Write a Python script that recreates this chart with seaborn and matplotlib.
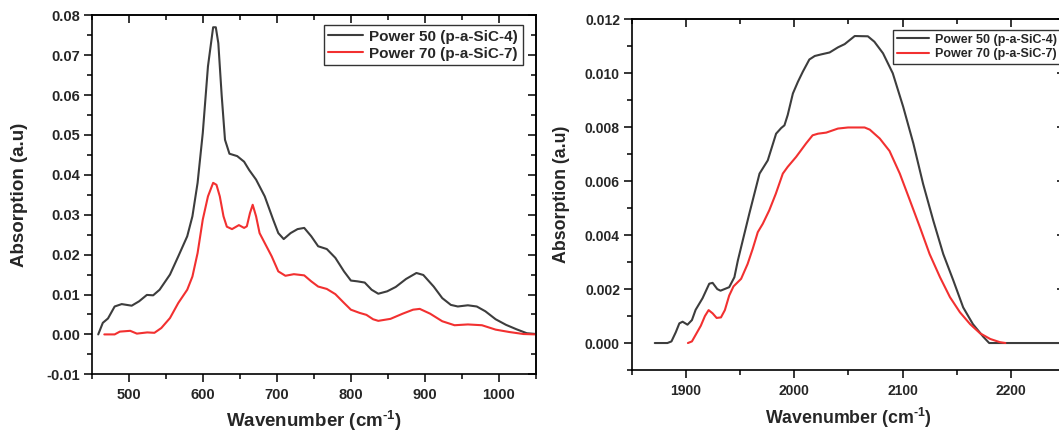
import matplotlib
matplotlib.use("Agg")
import matplotlib.pyplot as plt
from matplotlib.ticker import MultipleLocator, AutoMinorLocator, FormatStrFormatter
import seaborn as sns
import pandas as pd

# ---------------- data ----------------
left_p50_x = [458.8, 465, 472, 481, 490.5, 504, 514, 524.5, 533, 541.7, 555.7, 567, 579, 586, 593, 600,
              607, 614, 617.6, 621, 625.5, 630, 636, 646.5, 655.8, 662.7, 672, 683.7, 695, 702, 709.3,
              718.6, 728, 737, 746.5, 755.8, 767.5, 779, 790.7, 800, 809, 818.7, 828, 837, 849, 860.6,
              874.5, 888.5, 897.8, 911.8, 923.4, 935, 944.4, 958, 970, 981.6, 995.5, 1009.5, 1023.5,
              1037.5, 1050]
left_p50_y = [0.0, 0.0029, 0.0040, 0.0070, 0.0076, 0.0072, 0.0083, 0.0099, 0.0098, 0.0112, 0.0150, 0.0196,
              0.0246, 0.0296, 0.0380, 0.0505, 0.0672, 0.0770, 0.0770, 0.0730, 0.0600, 0.0488, 0.0453,
              0.0447, 0.0433, 0.0412, 0.0388, 0.0346, 0.0288, 0.0254, 0.0239, 0.0254, 0.0264, 0.0267,
              0.0246, 0.0221, 0.0214, 0.0192, 0.0158, 0.0135, 0.0133, 0.0130, 0.0112, 0.0102, 0.0108,
              0.0119, 0.0139, 0.0154, 0.0149, 0.0120, 0.0091, 0.0074, 0.0070, 0.0073, 0.0070, 0.0058,
              0.0038, 0.0024, 0.0013, 0.0003, 0.0001]

left_p70_x = [467, 481, 488, 502, 511, 525, 534.7, 544, 555.7, 567, 579, 586, 593, 600, 607, 614, 618.5,
              623, 628, 632.5, 639.5, 648.8, 655.8, 659.5, 663.7, 667.4, 672, 676.7, 683.7, 693, 702,
              711.6, 723, 737, 746.5, 755.8, 767.5, 779, 790.7, 800, 811.7, 821, 830, 837, 853.5, 870,
              884, 893, 907, 923.4, 940, 958, 977, 995.5, 1014, 1033, 1050]
left_p70_y = [0.0, 0.0, 0.0007, 0.0009, 0.0002, 0.0005, 0.0004, 0.0016, 0.0041, 0.0079, 0.0112, 0.0145,
              0.0204, 0.0288, 0.0346, 0.0380, 0.0375, 0.0346, 0.0296, 0.0270, 0.0264, 0.0274, 0.0267,
              0.0271, 0.0304, 0.0325, 0.0296, 0.0254, 0.0229, 0.0196, 0.0158, 0.0147, 0.0151, 0.0148,
              0.0133, 0.0120, 0.0114, 0.0101, 0.0079, 0.0062, 0.0054, 0.0049, 0.0038, 0.0034, 0.0039,
              0.0052, 0.0062, 0.0064, 0.0052, 0.0033, 0.0023, 0.0025, 0.0023, 0.0012, 0.0006, 0.0001, 0.0]

right_p50_x = [1871.3, 1883, 1886.7, 1890.7, 1894, 1897, 1901.5, 1905.6, 1909, 1915.4, 1921.6, 1924.7,
               1929, 1932, 1940, 1944.8, 1948, 1952.5, 1958.6, 1963.3, 1968, 1975.6, 1983.3, 1988, 1991,
               1994, 1998.8, 2003.4, 2008, 2014, 2019, 2025, 2032.7, 2040.4, 2046.6, 2055.9, 2068, 2074,
               2082, 2091, 2100.6, 2110, 2119, 2128.4, 2137.6, 2146.9, 2156, 2165, 2174.6, 2180, 2260]
right_p50_y = [0.0, 0.0, 0.00006, 0.0004, 0.00073, 0.00079, 0.00068, 0.00085, 0.00123, 0.00166, 0.0022,
               0.00223, 0.0020, 0.00194, 0.00207, 0.00244, 0.00306, 0.0038, 0.0048, 0.00554, 0.00628,
               0.00677, 0.00776, 0.00797, 0.00807, 0.00845, 0.00925, 0.00968, 0.01006, 0.01051, 0.01064,
               0.0107, 0.01077, 0.01096, 0.01108, 0.01138, 0.01137, 0.01117, 0.01074, 0.0100, 0.00876,
               0.0074, 0.0059, 0.00454, 0.0033, 0.00232, 0.00132, 0.0007, 0.00023, 0.0, 0.0]

right_p70_x = [1901.9, 1905.6, 1909, 1913.8, 1917.6, 1921, 1924.7, 1928.4, 1932.4, 1936, 1940, 1944, 1951,
               1957, 1961.7, 1966.4, 1971, 1977, 1983, 1989.5, 1994, 2001.8, 2011, 2017, 2022, 2029.6,
               2040.4, 2049.7, 2065, 2069.8, 2079, 2088, 2097.5, 2106.8, 2116, 2125, 2134.6, 2143.8, 2153,
               2162.4, 2171.6, 2181, 2190, 2195]
right_p70_y = [0.0, 0.00006, 0.0003, 0.00064, 0.0010, 0.00122, 0.0011, 0.00093, 0.00095, 0.00122, 0.00176,
               0.0021, 0.00238, 0.00293, 0.00349, 0.00411, 0.00442, 0.00492, 0.00553, 0.00628, 0.00653,
               0.0069, 0.0074, 0.0077, 0.00776, 0.0078, 0.00795, 0.00799, 0.00799, 0.00791, 0.00758,
               0.00712, 0.00628, 0.00529, 0.0043, 0.0033, 0.00244, 0.0017, 0.00114, 0.0007, 0.00036,
               0.00015, 0.00003, 0.0]

series_names = ["Power 50 (p-a-SiC-4)", "Power 70 (p-a-SiC-7)"]
series_colors = ["#3d3d3d", "#f23030"]
x_label = "Wavenumber (cm$^{\\text{-1}}$)"
y_label = "Absorption (a.u)"

# ---------------- style ----------------
sns.set_theme(style="white")
plt.rcParams["font.family"] = ["Liberation Sans", "DejaVu Sans"]
plt.rcParams["font.weight"] = "bold"
plt.rcParams["axes.unicode_minus"] = False
plt.rcParams["mathtext.fontset"] = "custom"
plt.rcParams["mathtext.rm"] = "Liberation Sans:bold"
plt.rcParams["mathtext.it"] = "Liberation Sans:bold"
plt.rcParams["mathtext.bf"] = "Liberation Sans:bold"
plt.rcParams["mathtext.default"] = "rm"

W, H = 1059, 436
fig = plt.figure(figsize=(W / 100, H / 100), dpi=100)


def px_axes(l, t, r, b):
    return fig.add_axes([l / W, 1 - b / H, (r - l) / W, (b - t) / H])


def make_df(xs, ys):
    frames = []
    for name, x, y in zip(series_names, xs, ys):
        frames.append(pd.DataFrame({"x": x, "y": y, "series": name}))
    return pd.concat(frames, ignore_index=True)


def style_axes(ax, xmaj, ymaj, tick_fs, label_fs, ylabelpad, xlabelpad):
    for s in ax.spines.values():
        s.set_visible(True)
        s.set_color("black")
        s.set_linewidth(1.2)
    ax.xaxis.set_major_locator(MultipleLocator(xmaj))
    ax.yaxis.set_major_locator(MultipleLocator(ymaj))
    ax.xaxis.set_minor_locator(AutoMinorLocator(2))
    ax.yaxis.set_minor_locator(AutoMinorLocator(2))
    ax.tick_params(which="both", direction="out", bottom=True, left=True, top=False, right=False,
                   color="black", width=1.1, labelsize=tick_fs)
    ax.tick_params(which="major", length=6)
    ax.tick_params(which="minor", length=3.5)
    ax.tick_params(axis="y", pad=2.5)
    ax.tick_params(axis="x", pad=4)
    for lab in ax.get_xticklabels() + ax.get_yticklabels():
        lab.set_fontweight("bold")
    ax.set_xlabel(x_label, fontsize=label_fs, fontweight="bold", labelpad=xlabelpad)
    ax.set_ylabel(y_label, fontsize=label_fs, fontweight="bold", labelpad=ylabelpad)
    # mirrored ticks pointing inward on top / right
    top = ax.secondary_xaxis("top")
    top.xaxis.set_major_locator(MultipleLocator(xmaj))
    top.xaxis.set_minor_locator(AutoMinorLocator(2))
    top.tick_params(which="both", direction="in", labeltop=False, color="black", width=1.1)
    top.tick_params(which="major", length=6)
    top.tick_params(which="minor", length=3.5)
    right = ax.secondary_yaxis("right")
    right.yaxis.set_major_locator(MultipleLocator(ymaj))
    right.yaxis.set_minor_locator(AutoMinorLocator(2))
    right.tick_params(which="both", direction="in", labelright=False, color="black", width=1.1)
    right.tick_params(which="major", length=6)
    right.tick_params(which="minor", length=3.5)
    for sec in (top, right):
        for s in sec.spines.values():
            s.set_linewidth(1.2)


def style_legend(leg):
    leg.get_frame().set_edgecolor("black")
    leg.get_frame().set_linewidth(1.0)
    for t in leg.get_texts():
        t.set_fontweight("bold")


# ---------------- left panel ----------------
ax1 = px_axes(91.7, 15.3, 536, 374.3)
df1 = make_df([left_p50_x, left_p70_x], [left_p50_y, left_p70_y])
sns.lineplot(data=df1, x="x", y="y", hue="series", palette=series_colors, sort=False,
             estimator=None, linewidth=1.5, ax=ax1)
ax1.set_xlim(450, 1050)
ax1.set_ylim(-0.01, 0.08)
ax1.yaxis.set_major_formatter(FormatStrFormatter("%.2f"))
style_axes(ax1, 100, 0.01, 10.5, 13.5, 13, 5)
leg1 = ax1.legend(loc="upper right", bbox_to_anchor=(522.7 / W, 1 - 25 / H),
                  bbox_transform=fig.transFigure, fontsize=11, frameon=True, fancybox=False,
                  handlelength=2.3, handletextpad=0.4, borderpad=0.3, labelspacing=0.2,
                  borderaxespad=0)
style_legend(leg1)

# ---------------- right panel ----------------
ax2 = px_axes(631.7, 19.3, 1065, 370)
df2 = make_df([right_p50_x, right_p70_x], [right_p50_y, right_p70_y])
sns.lineplot(data=df2, x="x", y="y", hue="series", palette=series_colors, sort=False,
             estimator=None, linewidth=1.5, ax=ax2)
ax2.set_xlim(1850, 2250)
ax2.set_ylim(-0.001, 0.012)
ax2.yaxis.set_major_formatter(FormatStrFormatter("%.3f"))
style_axes(ax2, 100, 0.002, 10, 12.8, 11, 6)
leg2 = ax2.legend(loc="upper right", bbox_to_anchor=(1061 / W, 1 - 30 / H),
                  bbox_transform=fig.transFigure, fontsize=9, frameon=True, fancybox=False,
                  handlelength=2.6, handletextpad=0.5, borderpad=0.3, labelspacing=0.2,
                  borderaxespad=0)
style_legend(leg2)

fig.savefig("out.png", dpi=100, facecolor="white")
